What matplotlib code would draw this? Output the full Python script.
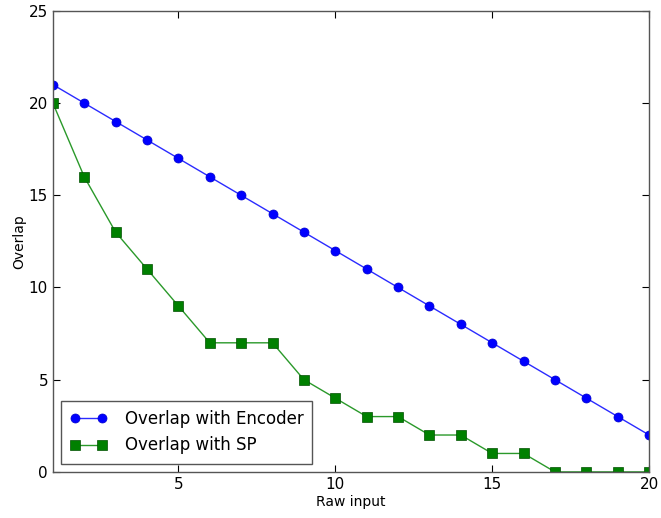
import matplotlib
matplotlib.use("Agg")
import matplotlib.pyplot as plt

raw_input = list(range(1, 21))
encoder_overlap = [21, 20, 19, 18, 17, 16, 15, 14, 13, 12, 11, 10, 9, 8, 7, 6, 5, 4, 3, 2]
sp_overlap = [20, 16, 13, 11, 9, 7, 7, 7, 5, 4, 3, 3, 2, 2, 1, 1, 0, 0, 0, 0]

fig = plt.figure(figsize=(6.61, 5.18), dpi=100)
ax = fig.add_axes([0.080, 0.089, 0.902, 0.890])

ax.plot(raw_input, encoder_overlap, color='#2b2bff', marker='o', markersize=6.5,
        linewidth=1.0, markerfacecolor='#0000ff', markeredgecolor='#0000cc',
        markeredgewidth=0.5, label='Overlap with Encoder')
ax.plot(raw_input, sp_overlap, color='#2a992a', marker='s', markersize=6.5,
        linewidth=1.0, markerfacecolor='#008000', markeredgecolor='#005000',
        markeredgewidth=0.5, label='Overlap with SP')

ax.set_xlim(1, 20)
ax.set_ylim(0, 25)
ax.set_xticks([5, 10, 15, 20])
ax.set_yticks([0, 5, 10, 15, 20, 25])
ax.tick_params(direction='in', top=True, right=True, labelsize=11, length=5, width=0.8)
for s in ax.spines.values():
    s.set_color('#555555')
    s.set_linewidth(1.0)

ax.set_xlabel('Raw input', fontsize=10, labelpad=2)
ax.set_ylabel('Overlap', fontsize=10, labelpad=2)

leg = ax.legend(loc='lower left', fontsize=12, fancybox=False, framealpha=1,
                edgecolor='#555555', borderaxespad=0.5, handlelength=2.2,
                handletextpad=1.05, borderpad=0.55, numpoints=2)
leg.get_frame().set_linewidth(1.0)

fig.savefig('out.png', dpi=100)
